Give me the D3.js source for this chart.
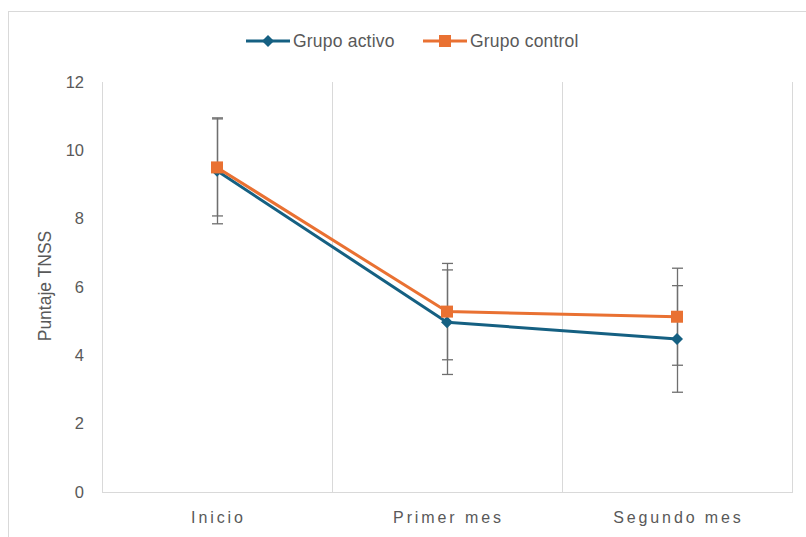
<!DOCTYPE html>
<html><head><meta charset="utf-8">
<script src="https://cdn.jsdelivr.net/npm/d3@7"></script>
<style>body{margin:0;background:#fff}</style>
</head><body>
<svg id="c" width="806" height="537"></svg>
<script>
const categories = ["Inicio", "Primer mes", "Segundo mes"];
const seriesNames = ["Grupo activo", "Grupo control"];
const activoValues = [9.4, 4.97, 4.48];
const activoErrors = [1.55, 1.53, 1.56];
const controlValues = [9.5, 5.28, 5.13];
const controlErrors = [1.42, 1.41, 1.42];
const yTicks = [0, 2, 4, 6, 8, 10, 12];
const yTitle = "Puntaje TNSS";
const colors = ["#156082", "#E97132"];

(function () {
const svg = d3.select("#c");
const font = "'Liberation Sans', Arial, sans-serif";
const textCol = "#595959";
const gridCol = "#d9d9d9";

// outer chart border
svg.append("rect").attr("x", 8.5).attr("y", 11.5).attr("width", 820).attr("height", 560)
  .attr("fill", "none").attr("stroke", "#d9d9d9").attr("stroke-width", 1);

const pLeft = 102, pRight = 792, pTop = 82, pBottom = 492;
const x = d3.scaleBand().domain(categories).range([pLeft, pRight]);
const y = d3.scaleLinear().domain([0, 12]).range([pBottom, pTop]);

// gridlines at category boundaries
const bounds = categories.map(c => x(c)).concat([pRight]);
svg.append("g").selectAll("line").data(bounds).join("line")
  .attr("x1", d => d + 0.5).attr("x2", d => d + 0.5)
  .attr("y1", pTop).attr("y2", pBottom)
  .attr("stroke", gridCol).attr("stroke-width", 1);
svg.append("line").attr("x1", pLeft).attr("x2", pRight + 1)
  .attr("y1", pBottom + 0.5).attr("y2", pBottom + 0.5)
  .attr("stroke", gridCol).attr("stroke-width", 1);

// y ticks
const yAxis = svg.append("g").attr("transform", `translate(${pLeft - 18},0)`)
  .call(d3.axisLeft(y).tickValues(yTicks).tickSize(0).tickFormat(d3.format("d")));
yAxis.select(".domain").remove();
yAxis.selectAll("text").attr("font-family", font).attr("font-size", 16.5)
  .attr("fill", textCol).attr("x", 0);

// x labels
const ls = 2.9;
const xAxis = svg.append("g").attr("transform", `translate(0,${pBottom})`)
  .call(d3.axisBottom(x).tickSize(0));
xAxis.select(".domain").remove();
xAxis.selectAll("text").attr("font-family", font).attr("font-size", 16)
  .attr("fill", textCol).attr("y", 0).attr("dy", 31).attr("dx", ls / 2)
  .attr("letter-spacing", ls + "px");

// y title
svg.append("text").attr("transform", `translate(51,${(pTop + pBottom) / 2 - 1}) rotate(-90)`)
  .attr("text-anchor", "middle").attr("font-family", font).attr("font-size", 17.5)
  .attr("fill", textCol).text(yTitle);

const series = [
  {name: seriesNames[0], values: activoValues, errors: activoErrors, color: colors[0], marker: "diamond"},
  {name: seriesNames[1], values: controlValues, errors: controlErrors, color: colors[1], marker: "square"}
];
const cx = c => x(c) + x.bandwidth() / 2;

// error bars
series.forEach(s => {
  const g = svg.append("g");
  categories.forEach((c, i) => {
    const v = s.values[i], e = s.errors[i];
    const px = Math.round(cx(c)) + 0.5;
    g.append("line").attr("x1", px).attr("x2", px).attr("y1", y(v + e)).attr("y2", y(v - e))
      .attr("stroke", "#6f6f6f").attr("stroke-width", 1.3);
    [v + e, v - e].forEach(t => {
      g.append("line").attr("x1", px - 5.5).attr("x2", px + 5.5).attr("y1", y(t)).attr("y2", y(t))
        .attr("stroke", "#6f6f6f").attr("stroke-width", 1.3);
    });
  });
});

const line = d3.line().x((d, i) => cx(categories[i])).y(d => y(d));
function drawMarker(g, type, px, py, color) {
  if (type === "diamond") {
    const r = 6;
    g.append("path").attr("d", `M${px},${py - r}L${px + r},${py}L${px},${py + r}L${px - r},${py}Z`)
      .attr("fill", color);
  } else {
    g.append("rect").attr("x", px - 6).attr("y", py - 6).attr("width", 12).attr("height", 12).attr("fill", color);
  }
}
series.forEach(s => {
  svg.append("path").datum(s.values).attr("d", line).attr("fill", "none")
    .attr("stroke", s.color).attr("stroke-width", 3).attr("stroke-linejoin", "round");
  const g = svg.append("g");
  s.values.forEach((v, i) => drawMarker(g, s.marker, cx(categories[i]), y(v), s.color));
});

// legend
const legendItems = [{x: 246, s: series[0]}, {x: 423, s: series[1]}];
legendItems.forEach(({x: lx, s}) => {
  const ly = 41;
  svg.append("line").attr("x1", lx).attr("x2", lx + 44).attr("y1", ly).attr("y2", ly)
    .attr("stroke", s.color).attr("stroke-width", 3);
  drawMarker(svg, s.marker, lx + 22, ly, s.color);
  svg.append("text").attr("x", lx + 47).attr("y", ly + 6).attr("font-family", font)
    .attr("font-size", 17.5).attr("letter-spacing", "0.2px").attr("fill", textCol).text(s.name);
});
})();
</script>
</body></html>
